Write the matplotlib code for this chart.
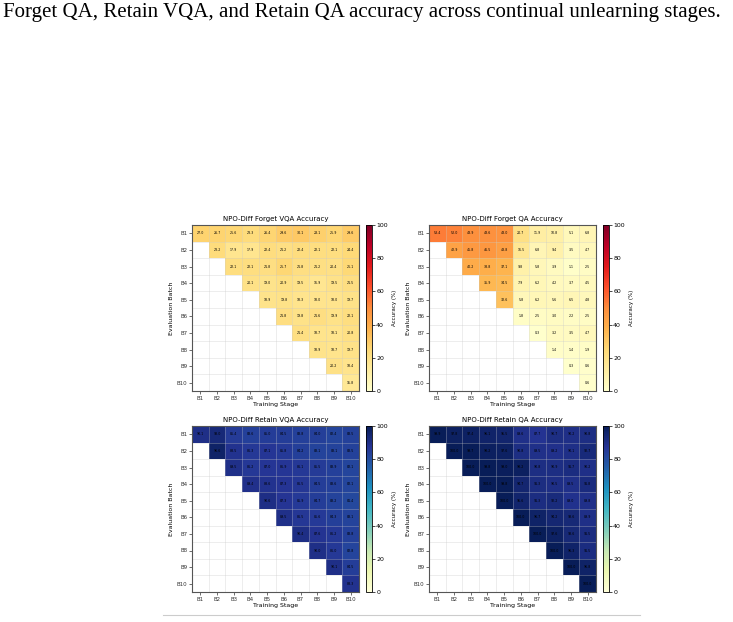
import numpy as np
import matplotlib
matplotlib.use("Agg")
import matplotlib.pyplot as plt

stages = ["B1", "B2", "B3", "B4", "B5", "B6", "B7", "B8", "B9", "B10"]

# rows = evaluation batch, upper triangle only (row i starts at stage i)
forget_vqa = [
    [27.0, 26.7, 25.6, 23.3, 26.4, 29.6, 30.1, 28.1, 25.9, 29.6],
    [23.2, 17.9, 17.9, 22.4, 21.2, 22.4, 22.1, 22.1, 24.4],
    [22.1, 22.1, 21.8, 25.7, 21.8, 21.2, 20.4, 25.1],
    [20.1, 19.0, 20.9, 19.5, 16.9, 19.5, 21.5],
    [18.9, 19.8, 18.3, 18.0, 18.0, 19.7],
    [21.8, 19.8, 21.6, 19.9, 22.1],
    [21.4, 18.7, 18.1, 20.8],
    [18.9, 18.7, 19.7],
    [20.2, 18.4],
    [15.8],
]
forget_qa = [
    [53.4, 52.0, 48.9, 48.6, 48.0, 20.7, 11.9, 10.8, 5.1, 6.8],
    [42.9, 45.8, 46.5, 43.8, 16.5, 6.8, 9.4, 3.5, 4.7],
    [40.2, 38.8, 37.1, 9.8, 5.8, 3.9, 1.1, 2.5],
    [35.9, 34.5, 7.9, 6.2, 4.2, 3.7, 4.5],
    [32.6, 5.8, 6.2, 5.6, 6.5, 4.8],
    [1.8, 2.5, 3.0, 2.2, 2.5],
    [0.3, 3.2, 3.5, 4.7],
    [1.4, 1.4, 1.9],
    [0.3, 0.6],
    [0.6],
]
retain_vqa = [
    [90.1, 93.0, 85.4, 83.6, 85.0, 84.5, 83.8, 84.0, 82.4, 83.5],
    [96.6, 88.5, 86.3, 87.1, 85.8, 84.2, 83.1, 83.1, 83.5],
    [89.5, 86.2, 87.0, 86.9, 86.1, 85.5, 83.9, 82.1],
    [89.4, 88.6, 87.3, 86.5, 84.5, 83.6, 82.1],
    [90.6, 87.3, 85.9, 84.7, 83.2, 81.4],
    [89.5, 86.5, 85.6, 84.3, 83.1],
    [90.4, 87.6, 86.2, 83.8],
    [90.0, 86.0, 82.8],
    [90.1, 84.5],
    [88.3],
]
retain_qa = [
    [99.9, 97.8, 97.4, 96.1, 95.5, 89.6, 87.7, 90.7, 90.2, 90.8],
    [100.0, 99.7, 98.2, 97.6, 90.8, 89.5, 89.2, 90.1, 92.7],
    [100.0, 99.8, 99.0, 98.2, 90.8, 90.9, 91.7, 90.2],
    [100.0, 99.8, 94.7, 91.3, 90.5, 89.5, 91.8],
    [100.0, 95.6, 91.3, 92.2, 89.0, 89.8],
    [100.0, 96.7, 94.2, 93.6, 89.9],
    [100.0, 97.6, 93.6, 91.5],
    [100.0, 96.3, 91.5],
    [100.0, 96.8],
    [100.0],
]

panels = [
    ("NPO-Diff Forget VQA Accuracy", forget_vqa, "YlOrRd"),
    ("NPO-Diff Forget QA Accuracy", forget_qa, "YlOrRd"),
    ("NPO-Diff Retain VQA Accuracy", retain_vqa, "YlGnBu"),
    ("NPO-Diff Retain QA Accuracy", retain_qa, "YlGnBu"),
]

W, H = 733, 622
fig = plt.figure(figsize=(W / 100, H / 100), dpi=100)

# caption fragment at the top of the page
fig.text(3 / W, 1 - 12 / H, "Forget QA, Retain VQA, and Retain QA accuracy across continual unlearning stages.",
         family="Liberation Serif", fontsize=15, va="center", ha="left")
fig.add_artist(plt.Line2D([163 / W, 640 / W], [1 - 615 / H, 1 - 615 / H], color="#cccccc", lw=0.8))

ax_px = [(192, 225), (429, 225), (192, 426), (429, 426)]
cb_px = [366, 603, 366, 603]
aw, ah = 167, 166

n = len(stages)
for (title, rows, cmap), (x0, y0), cx in zip(panels, ax_px, cb_px):
    mat = np.full((n, n), np.nan)
    for i, r in enumerate(rows):
        mat[i, i:] = r
    data = np.ma.masked_invalid(mat)

    ax = fig.add_axes([x0 / W, 1 - (y0 + ah) / H, aw / W, ah / H])
    mesh = ax.pcolormesh(np.arange(n + 1) - 0.5, np.arange(n + 1) - 0.5, data,
                         cmap=cmap, vmin=0, vmax=100, linewidth=0)
    ax.set_xlim(-0.5, n - 0.5)
    ax.set_ylim(n - 0.5, -0.5)
    ax.set_xticks(range(n))
    ax.set_xticklabels(stages)
    ax.set_yticks(range(n))
    ax.set_yticklabels(stages)
    ax.set_xticks(np.arange(n + 1) - 0.5, minor=True)
    ax.set_yticks(np.arange(n + 1) - 0.5, minor=True)
    ax.grid(which="minor", color="#c8c8c8", lw=0.5, alpha=0.45, zorder=3)
    ax.tick_params(which="minor", length=0)
    ax.tick_params(which="major", labelsize=4, length=2, width=0.5, pad=1.5, colors="#333333")
    for s in ax.spines.values():
        s.set_linewidth(0.8)
        s.set_color("#555555")
    ax.set_title(title, fontsize=5, pad=3)
    ax.set_xlabel("Training Stage", fontsize=4.5, labelpad=1)
    ax.set_ylabel("Evaluation Batch", fontsize=4.5, labelpad=2)

    for i in range(n):
        for j in range(i, n):
            ax.text(j, i, f"{mat[i, j]:.1f}", ha="center", va="center", fontsize=2.3, color="black", zorder=4)

    cax = fig.add_axes([cx / W, 1 - (y0 + ah) / H, 6 / W, ah / H])
    cb = fig.colorbar(mesh, cax=cax)
    cb.set_ticks([0, 20, 40, 60, 80, 100])
    cb.ax.tick_params(labelsize=4.5, length=2, width=0.5, pad=1)
    cb.outline.set_linewidth(0.6)
    cb.set_label("Accuracy (%)", fontsize=4, labelpad=3)

fig.savefig("out.png", dpi=100)
